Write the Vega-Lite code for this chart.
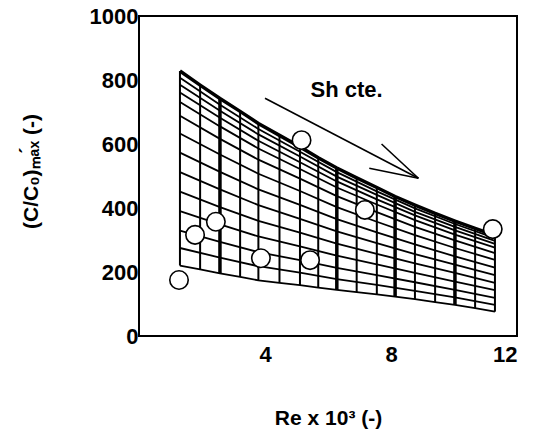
{
  "$schema": "https://vega.github.io/schema/vega-lite/v6.json",
  "width": 378,
  "height": 320,
  "autosize": {"type": "none"},
  "padding": {"left": 139, "top": 16, "right": 22, "bottom": 100},
  "background": "white",
  "config": {
    "font": "Liberation Sans",
    "view": {"stroke": "black", "strokeWidth": 2},
    "axis": {
      "grid": false, "ticks": false, "domain": false,
      "labelFont": "Liberation Sans", "labelFontWeight": "bold", "labelFontSize": 22, "labelColor": "black",
      "titleFont": "Liberation Sans", "titleFontWeight": "bold", "titleFontSize": 21, "titleColor": "black"
    }
  },
  "datasets": {
    "verticals": [
      {"re": 1.30, "lo": 220, "hi": 828},
      {"re": 1.94, "lo": 208, "hi": 784},
      {"re": 3.21, "lo": 185, "hi": 702},
      {"re": 3.79, "lo": 174, "hi": 664},
      {"re": 4.46, "lo": 166, "hi": 627},
      {"re": 5.11, "lo": 159, "hi": 591},
      {"re": 5.69, "lo": 151, "hi": 557},
      {"re": 6.91, "lo": 137, "hi": 494},
      {"re": 7.55, "lo": 130, "hi": 464},
      {"re": 8.76, "lo": 115, "hi": 409},
      {"re": 9.40, "lo": 106, "hi": 383},
      {"re": 10.67, "lo": 87, "hi": 336},
      {"re": 11.30, "lo": 76, "hi": 314}
    ],
    "majorVerticals": [
      {"re": 2.57, "lo": 196, "hi": 742},
      {"re": 6.28, "lo": 144, "hi": 525},
      {"re": 8.13, "lo": 123, "hi": 436},
      {"re": 10.03, "lo": 97, "hi": 359}
    ],
    "topEdge": [
      {"re": 1.30, "c": 828}, {"re": 1.94, "c": 784}, {"re": 2.57, "c": 742},
      {"re": 3.21, "c": 702}, {"re": 3.79, "c": 664}, {"re": 4.46, "c": 627},
      {"re": 5.11, "c": 591}, {"re": 5.69, "c": 557}, {"re": 6.28, "c": 525},
      {"re": 6.91, "c": 494}, {"re": 7.55, "c": 464}, {"re": 8.13, "c": 436},
      {"re": 8.76, "c": 409}, {"re": 9.40, "c": 383}, {"re": 10.03, "c": 359},
      {"re": 10.67, "c": 336}, {"re": 11.30, "c": 314}
    ],
    "mesh": [
      {"sh": "s99", "re": 1.30, "c": 220}, {"sh": "s99", "re": 1.94, "c": 208}, {"sh": "s99", "re": 2.57, "c": 196},
      {"sh": "s99", "re": 3.21, "c": 185}, {"sh": "s99", "re": 3.79, "c": 174}, {"sh": "s99", "re": 4.46, "c": 166},
      {"sh": "s99", "re": 5.11, "c": 159}, {"sh": "s99", "re": 5.69, "c": 151}, {"sh": "s99", "re": 6.28, "c": 144},
      {"sh": "s99", "re": 6.91, "c": 137}, {"sh": "s99", "re": 7.55, "c": 130}, {"sh": "s99", "re": 8.13, "c": 123},
      {"sh": "s99", "re": 8.76, "c": 115}, {"sh": "s99", "re": 9.40, "c": 106}, {"sh": "s99", "re": 10.03, "c": 97},
      {"sh": "s99", "re": 10.67, "c": 87}, {"sh": "s99", "re": 11.30, "c": 76},

      {"sh": "s01", "re": 1.30, "c": 807}, {"sh": "s01", "re": 2.57, "c": 723}, {"sh": "s01", "re": 3.79, "c": 647}, {"sh": "s01", "re": 5.11, "c": 576}, {"sh": "s01", "re": 6.28, "c": 512}, {"sh": "s01", "re": 7.55, "c": 452}, {"sh": "s01", "re": 8.76, "c": 399}, {"sh": "s01", "re": 10.03, "c": 350}, {"sh": "s01", "re": 11.30, "c": 306},
      {"sh": "s02", "re": 1.30, "c": 785}, {"sh": "s02", "re": 2.57, "c": 704}, {"sh": "s02", "re": 3.79, "c": 630}, {"sh": "s02", "re": 5.11, "c": 561}, {"sh": "s02", "re": 6.28, "c": 498}, {"sh": "s02", "re": 7.55, "c": 441}, {"sh": "s02", "re": 8.76, "c": 388}, {"sh": "s02", "re": 10.03, "c": 341}, {"sh": "s02", "re": 11.30, "c": 297},
      {"sh": "s03", "re": 1.30, "c": 761}, {"sh": "s03", "re": 2.57, "c": 682}, {"sh": "s03", "re": 3.79, "c": 610}, {"sh": "s03", "re": 5.11, "c": 543}, {"sh": "s03", "re": 6.28, "c": 483}, {"sh": "s03", "re": 7.55, "c": 427}, {"sh": "s03", "re": 8.76, "c": 377}, {"sh": "s03", "re": 10.03, "c": 330}, {"sh": "s03", "re": 11.30, "c": 288},
      {"sh": "s04", "re": 1.30, "c": 731}, {"sh": "s04", "re": 2.57, "c": 655}, {"sh": "s04", "re": 3.79, "c": 586}, {"sh": "s04", "re": 5.11, "c": 522}, {"sh": "s04", "re": 6.28, "c": 464}, {"sh": "s04", "re": 7.55, "c": 411}, {"sh": "s04", "re": 8.76, "c": 362}, {"sh": "s04", "re": 10.03, "c": 317}, {"sh": "s04", "re": 11.30, "c": 276},
      {"sh": "s05", "re": 1.30, "c": 688}, {"sh": "s05", "re": 2.57, "c": 616}, {"sh": "s05", "re": 3.79, "c": 551}, {"sh": "s05", "re": 5.11, "c": 492}, {"sh": "s05", "re": 6.28, "c": 437}, {"sh": "s05", "re": 7.55, "c": 387}, {"sh": "s05", "re": 8.76, "c": 341}, {"sh": "s05", "re": 10.03, "c": 299}, {"sh": "s05", "re": 11.30, "c": 259},
      {"sh": "s06", "re": 1.30, "c": 633}, {"sh": "s06", "re": 2.57, "c": 567}, {"sh": "s06", "re": 3.79, "c": 507}, {"sh": "s06", "re": 5.11, "c": 453}, {"sh": "s06", "re": 6.28, "c": 403}, {"sh": "s06", "re": 7.55, "c": 357}, {"sh": "s06", "re": 8.76, "c": 315}, {"sh": "s06", "re": 10.03, "c": 275}, {"sh": "s06", "re": 11.30, "c": 238},
      {"sh": "s07", "re": 1.30, "c": 573}, {"sh": "s07", "re": 2.57, "c": 513}, {"sh": "s07", "re": 3.79, "c": 458}, {"sh": "s07", "re": 5.11, "c": 410}, {"sh": "s07", "re": 6.28, "c": 365}, {"sh": "s07", "re": 7.55, "c": 324}, {"sh": "s07", "re": 8.76, "c": 286}, {"sh": "s07", "re": 10.03, "c": 249}, {"sh": "s07", "re": 11.30, "c": 214},
      {"sh": "s08", "re": 1.30, "c": 512}, {"sh": "s08", "re": 2.57, "c": 458}, {"sh": "s08", "re": 3.79, "c": 409}, {"sh": "s08", "re": 5.11, "c": 366}, {"sh": "s08", "re": 6.28, "c": 327}, {"sh": "s08", "re": 7.55, "c": 290}, {"sh": "s08", "re": 8.76, "c": 256}, {"sh": "s08", "re": 10.03, "c": 223}, {"sh": "s08", "re": 11.30, "c": 190},
      {"sh": "s09", "re": 1.30, "c": 451}, {"sh": "s09", "re": 2.57, "c": 403}, {"sh": "s09", "re": 3.79, "c": 360}, {"sh": "s09", "re": 5.11, "c": 323}, {"sh": "s09", "re": 6.28, "c": 289}, {"sh": "s09", "re": 7.55, "c": 257}, {"sh": "s09", "re": 8.76, "c": 227}, {"sh": "s09", "re": 10.03, "c": 197}, {"sh": "s09", "re": 11.30, "c": 166},
      {"sh": "s10", "re": 1.30, "c": 390}, {"sh": "s10", "re": 2.57, "c": 349}, {"sh": "s10", "re": 3.79, "c": 311}, {"sh": "s10", "re": 5.11, "c": 280}, {"sh": "s10", "re": 6.28, "c": 251}, {"sh": "s10", "re": 7.55, "c": 224}, {"sh": "s10", "re": 8.76, "c": 197}, {"sh": "s10", "re": 10.03, "c": 170}, {"sh": "s10", "re": 11.30, "c": 143},
      {"sh": "s11", "re": 1.30, "c": 329}, {"sh": "s11", "re": 2.57, "c": 294}, {"sh": "s11", "re": 3.79, "c": 262}, {"sh": "s11", "re": 5.11, "c": 237}, {"sh": "s11", "re": 6.28, "c": 213}, {"sh": "s11", "re": 7.55, "c": 190}, {"sh": "s11", "re": 8.76, "c": 168}, {"sh": "s11", "re": 10.03, "c": 144}, {"sh": "s11", "re": 11.30, "c": 119},
      {"sh": "s12", "re": 1.30, "c": 275}, {"sh": "s12", "re": 2.57, "c": 245}, {"sh": "s12", "re": 3.79, "c": 218}, {"sh": "s12", "re": 5.11, "c": 198}, {"sh": "s12", "re": 6.28, "c": 178}, {"sh": "s12", "re": 7.55, "c": 160}, {"sh": "s12", "re": 8.76, "c": 141}, {"sh": "s12", "re": 10.03, "c": 121}, {"sh": "s12", "re": 11.30, "c": 97}
    ],
    "points": [
      {"re": 1.27, "c": 175}, {"re": 1.78, "c": 316}, {"re": 2.44, "c": 357}, {"re": 3.87, "c": 243},
      {"re": 5.43, "c": 237}, {"re": 5.16, "c": 612}, {"re": 7.17, "c": 394}, {"re": 11.23, "c": 334}
    ],
    "arrow": [
      {"seg": "shaft", "re": 4.0, "c": 743}, {"seg": "shaft", "re": 8.87, "c": 493},
      {"seg": "head1", "re": 7.70, "c": 600}, {"seg": "head1", "re": 8.87, "c": 493},
      {"seg": "head2", "re": 7.31, "c": 524}, {"seg": "head2", "re": 8.87, "c": 493}
    ],
    "labels": [{"text": "Sh cte.", "re": 6.59, "c": 769}]
  },
  "encoding": {
    "x": {"field": "re", "type": "quantitative",
          "scale": {"domain": [0, 12], "nice": false, "zero": false},
          "axis": {"values": [4, 8, 12], "labelPadding": 8, "title": "Re x 10³ (-)",
                   "titleBaseline": "alphabetic", "titleY": 88}},
    "y": {"field": "c", "type": "quantitative",
          "scale": {"domain": [0, 1000], "nice": false},
          "axis": {"values": [0, 200, 400, 600, 800, 1000], "format": "d", "labelPadding": 1,
                   "title": "(C/C₀)ₘₐ́ₓ (-)",
                   "titleAngle": -90, "titleBaseline": "alphabetic",
                   "titleAlign": "center", "titleX": -102, "titleY": 155}}
  },
  "layer": [
    {
      "data": {"name": "verticals"},
      "mark": {"type": "rule", "color": "black", "strokeWidth": 2},
      "encoding": {"y": {"field": "lo", "type": "quantitative"}, "y2": {"field": "hi"}}
    },
    {
      "data": {"name": "majorVerticals"},
      "mark": {"type": "rule", "color": "black", "strokeWidth": 3.5},
      "encoding": {"y": {"field": "lo", "type": "quantitative"}, "y2": {"field": "hi"}}
    },
    {
      "data": {"name": "mesh"},
      "mark": {"type": "line", "color": "black", "strokeWidth": 1.8},
      "encoding": {"detail": {"field": "sh", "type": "nominal"}}
    },
    {
      "data": {"name": "topEdge"},
      "mark": {"type": "line", "color": "black", "strokeWidth": 3.5},
      "encoding": {}
    },
    {
      "data": {"name": "points"},
      "mark": {"type": "point", "shape": "circle", "size": 340, "filled": false, "fill": "white", "fillOpacity": 1, "stroke": "black", "strokeWidth": 1.6, "opacity": 1},
      "encoding": {}
    },
    {
      "data": {"name": "arrow"},
      "mark": {"type": "line", "color": "black", "strokeWidth": 1.6},
      "encoding": {"detail": {"field": "seg", "type": "nominal"}}
    },
    {
      "data": {"name": "labels"},
      "mark": {"type": "text", "font": "Liberation Sans", "fontWeight": "bold", "fontSize": 22, "color": "black", "align": "center", "baseline": "middle"},
      "encoding": {"text": {"field": "text"}}
    }
  ]
}
